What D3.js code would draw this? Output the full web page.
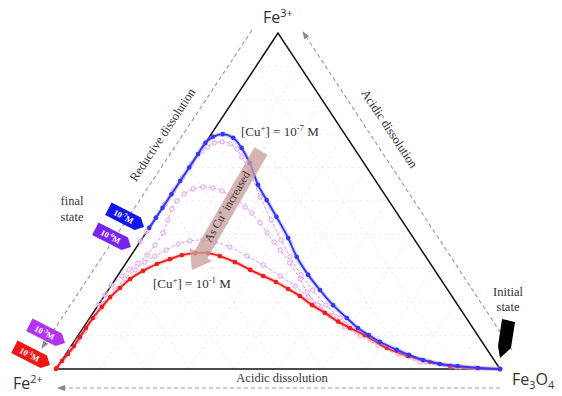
<!DOCTYPE html>
<html>
<head>
<meta charset="utf-8">
<script src="https://cdn.jsdelivr.net/npm/d3@7"></script>
<style>
  body { margin: 0; background: #fff; }
  text { font-family: "Liberation Serif", serif; fill: #333; }
  .sans { font-family: "Open Sans", sans-serif; fill: #333; }
</style>
</head>
<body>
<svg id="chart" width="562" height="396"></svg>
<script>
// each point is [Fe3+ %, Fe3O4 %], Fe2+ is the rest
const cu7 = [[0,100],[0.3,94.9],[0.9,90.0],[1.5,85.7],[2.7,81.3],[4.2,77.4],[5.7,73.9],[8.1,68.9],
  [10.1,65.4],[12.2,61.9],[15.2,57.9],[19.0,52.9],[23.5,47.7],[28.0,42.8],[33.4,37.5],[39.0,32.8],
  [45.3,27.0],[50.3,22.3],[54.8,18.1],[61.3,13.0],[65.8,8.9],[68.8,5.5],[69.9,2.6],[69.1,0.8],
  [67.3,0],[64,0],[60,0],[56,0],[52,0],[48,0],[45,0],[42,0]];
const cu6 = [[0,100],[0.6,90.7],[2.1,82.1],[5.7,72.8],[8.6,66.9],[12.2,60.6],[15.2,56.4],[19.0,51.3],
  [23.5,46.1],[28.0,41.2],[33.4,36.0],[38.4,31.5],[44.3,26.3],[51.2,20.4],[58.3,14.5],[63.1,10.3],
  [65.5,8.0],[67.0,5.7],[67.6,3.6],[67.3,2.0],[66.1,1.0],[64.9,0.4],[61,0],[57,0],[53,0],[49,0],
  [45,0],[41,0],[38,0]];
const cu5 = [[0,100],[0.6,89.8],[2.1,80.9],[4.5,74.8],[7.1,69.0],[9.8,63.6],[12.5,58.8],[15.8,53.8],
  [19.0,49.5],[22.9,45.1],[26.8,41.6],[31.5,36.9],[35.4,32.8],[37.8,30.2],[40.5,27.3],[43.5,24.2],
  [46.4,20.9],[48.2,18.5],[50.3,15.8],[51.5,13.4],[53.0,10.9],[53.9,8.4],[54.2,6.0],[53.6,4.1],
  [52.1,2.8],[50.0,2.25],[47.6,2.3],[44.3,3.05],[40.5,3.85],[36.9,3.85],[33.9,3.55],[31.5,2.7],
  [29.5,1.7],[27.7,1.0],[25,0],[22,0],[19,0]];
const cu3 = [[0,100],[0.3,94.2],[0.9,88.3],[2.4,81.9],[4.8,75.1],[7.7,69.1],[10.7,63.1],[13.4,58.4],
  [15.8,54.5],[18.5,50.2],[21.4,46.1],[24.7,41.5],[27.7,36.6],[31.0,31.1],[33.6,26.2],[36.3,21.0],
  [37.8,16.9],[38.4,13.9],[38.1,11.1],[37.2,8.9],[35.4,7.1],[33.6,5.5],[31.8,4.1],[29.5,3.05],
  [26.8,2.1],[23.5,1.55],[19.6,1.2],[15.5,1.05],[11.3,0.85],[8.3,0.8],[5.95,0.4]];
const cu1 = [[0,100],[0.3,94.7],[0.9,88.3],[2.1,83.2],[3.9,77.3],[6.25,71.4],[10.1,64.5],[12.2,60.1],
  [14.1,56.5],[16.7,52.2],[19.0,48.2],[21.7,44.1],[23.8,40.4],[25.9,36.6],[27.7,32.8],[29.5,29.0],
  [31.8,24.4],[33.6,20.1],[34.5,17.0],[34.5,14.1],[33.9,11.4],[32.7,9.3],[31.25,7.1],[29.2,5.0],
  [26.8,3.3],[24.1,2.35],[21.4,1.5],[18.5,1.1],[15.2,0.7],[12.2,0.65],[9.5,0.65],[6.85,0.65],
  [4.5,0.45],[2.4,0.15],[0.3,0],[0,0]];

const flagLabels = ['-7', '-6', '-3', '-1'];
const gridSteps = d3.range(10, 100, 10);

const svg = d3.select('#chart');
const xs = d3.scaleLinear().domain([0, 100]).range([56, 500]);
const ys = d3.scaleLinear().domain([0, 100]).range([369, 33]);
const pt = d => [xs(d[1] + d[0] / 2), ys(d[0])];

// text with sup / sub parts
function rich(sel, parts, size) {
  let off = 0;
  parts.forEach(([t, k]) => {
    const target = k === 'sup' ? -size * 0.38 : k === 'sub' ? size * 0.28 : 0;
    const ts = sel.append('tspan').text(t).attr('dy', target - off);
    if (k) ts.attr('font-size', size * 0.68);
    off = target;
  });
  return sel;
}

// grid
const grid = svg.append('g')
  .attr('stroke', '#e8e8e8').attr('stroke-width', 0.8).attr('stroke-dasharray', '3,3');
gridSteps.forEach(k => {
  [[[k, 0], [k, 100 - k]], [[0, k], [100 - k, k]], [[0, 100 - k], [100 - k, 0]]].forEach(s => {
    const a = pt(s[0]), b = pt(s[1]);
    grid.append('line').attr('x1', a[0]).attr('y1', a[1]).attr('x2', b[0]).attr('y2', b[1]);
  });
});

// frame
svg.append('path')
  .attr('d', d3.line()([pt([100, 0]), pt([0, 0]), pt([0, 100])]) + 'Z')
  .attr('fill', 'none').attr('stroke', '#111').attr('stroke-width', 1.5);

// guide arrows
svg.append('defs').append('marker')
  .attr('id', 'head').attr('viewBox', '0 0 8 6').attr('refX', 7).attr('refY', 3)
  .attr('markerWidth', 8).attr('markerHeight', 6).attr('orient', 'auto')
  .attr('markerUnits', 'userSpaceOnUse')
  .append('path').attr('d', 'M0,0L8,3L0,6Z').attr('fill', '#8a8a8a');

[[[252, 30], [42, 348]], [[512, 350], [303, 32]], [[500, 388], [58, 388]]].forEach(s => {
  svg.append('line')
    .attr('x1', s[0][0]).attr('y1', s[0][1]).attr('x2', s[1][0]).attr('y2', s[1][1])
    .attr('stroke', '#999').attr('stroke-width', 1.1).attr('stroke-dasharray', '4,3')
    .attr('marker-end', 'url(#head)');
});

// curves
const line = d3.line().curve(d3.curveCatmullRom.alpha(0.5));
const pink = '#df92f2';

function dashed(data) {
  const pts = data.map(pt);
  svg.append('path').attr('d', line(pts)).attr('fill', 'none')
    .attr('stroke', pink).attr('stroke-width', 1).attr('stroke-dasharray', '3,2');
  svg.append('g').selectAll('circle').data(pts).join('circle')
    .attr('cx', d => d[0]).attr('cy', d => d[1]).attr('r', 2.2)
    .attr('fill', '#fff').attr('fill-opacity', 0.6).attr('stroke', pink).attr('stroke-width', 0.9);
}

function solid(data, color, glow) {
  const pts = data.map(pt);
  svg.append('path').attr('d', line(pts)).attr('fill', 'none')
    .attr('stroke', glow).attr('stroke-width', 4.5).attr('stroke-opacity', 0.4);
  svg.append('path').attr('d', line(pts)).attr('fill', 'none')
    .attr('stroke', color).attr('stroke-width', 1.9);
  svg.append('g').selectAll('circle').data(pts).join('circle')
    .attr('cx', d => d[0]).attr('cy', d => d[1]).attr('r', 2.3).attr('fill', color);
}

dashed(cu3);
dashed(cu5);
dashed(cu6);
solid(cu1, '#f21c1c', '#ff9a9a');
solid(cu7, '#3535f5', '#a0a0ff');

// vertex labels
rich(svg.append('text').attr('class', 'sans').attr('x', 263).attr('y', 23).attr('font-size', 16),
  [['Fe'], ['3+', 'sup']], 16);
rich(svg.append('text').attr('class', 'sans').attr('x', 13).attr('y', 389).attr('font-size', 16),
  [['Fe'], ['2+', 'sup']], 16);
rich(svg.append('text').attr('class', 'sans').attr('x', 512).attr('y', 385).attr('font-size', 16),
  [['Fe'], ['3', 'sub'], ['O'], ['4', 'sub']], 16);

// side labels
svg.append('text').attr('transform', 'translate(166,137) rotate(-56.5)')
  .attr('text-anchor', 'middle').attr('font-size', 12.5).text('Reductive dissolution');
svg.append('text').attr('transform', 'translate(386,131) rotate(56.5)')
  .attr('text-anchor', 'middle').attr('font-size', 12.5).text('Acidic dissolution');
svg.append('text').attr('x', 282).attr('y', 382)
  .attr('text-anchor', 'middle').attr('font-size', 12.5).text('Acidic dissolution');

// concentration labels
rich(svg.append('text').attr('x', 241).attr('y', 136).attr('font-size', 13),
  [['[Cu'], ['+', 'sup'], ['] = 10'], ['-7', 'sup'], [' M']], 13);
rich(svg.append('text').attr('x', 153).attr('y', 288).attr('font-size', 13),
  [['[Cu'], ['+', 'sup'], ['] = 10'], ['-1', 'sup'], [' M']], 13);

// big arrow
const S = [261, 151], T = [192, 270];
const L = Math.hypot(T[0] - S[0], T[1] - S[1]);
const ang = Math.atan2(T[1] - S[1], T[0] - S[0]) * 180 / Math.PI;
svg.append('polygon')
  .attr('transform', `translate(${S}) rotate(${ang})`)
  .attr('points', [[0, -7.5], [L - 18, -7.5], [L - 18, -13], [L, 0], [L - 18, 13], [L - 18, 7.5], [0, 7.5]].join(' '))
  .attr('fill', '#c9a09b').attr('fill-opacity', 0.78);
rich(svg.append('text')
  .attr('transform', `translate(${(S[0] + T[0]) / 2 + 4},${(S[1] + T[1]) / 2 - 2}) rotate(${ang - 180})`)
  .attr('text-anchor', 'middle').attr('dy', 4).attr('font-size', 11.5),
  [['As Cu'], ['+', 'sup'], [' increased']], 11.5);

// flags
const flagColors = ['#1414ee', '#7a22ee', '#b233f2', '#f01616'];
const flagTips = [[144, 227], [131, 247], [65, 343], [50, 365]];
flagTips.forEach((tip, i) => {
  const a = 27 * Math.PI / 180;
  const c = [tip[0] - 20 * Math.cos(a), tip[1] - 20 * Math.sin(a)];
  const g = svg.append('g').attr('transform', `translate(${c}) rotate(27)`);
  g.append('polygon').attr('points', '-20,-7 13,-7 20,0 13,7 -20,7').attr('fill', flagColors[i]);
  rich(g.append('text').attr('x', -3).attr('y', 3).attr('text-anchor', 'middle')
    .attr('font-size', 8.5).attr('font-weight', 'bold').style('fill', '#fff'),
    [['10'], [flagLabels[i], 'sup'], ['M']], 8.5);
});

svg.append('text').attr('x', 72).attr('y', 205).attr('text-anchor', 'middle').attr('font-size', 12.5).text('final');
svg.append('text').attr('x', 72).attr('y', 221).attr('text-anchor', 'middle').attr('font-size', 12.5).text('state');

// initial state
svg.append('text').attr('x', 508).attr('y', 296).attr('text-anchor', 'middle').attr('font-size', 12.5).text('Initial');
svg.append('text').attr('x', 508).attr('y', 311).attr('text-anchor', 'middle').attr('font-size', 12.5).text('state');
svg.append('polygon').attr('points', '502,319 515,322 511,348 500,358 498,346').attr('fill', '#000');
</script>
</body>
</html>
